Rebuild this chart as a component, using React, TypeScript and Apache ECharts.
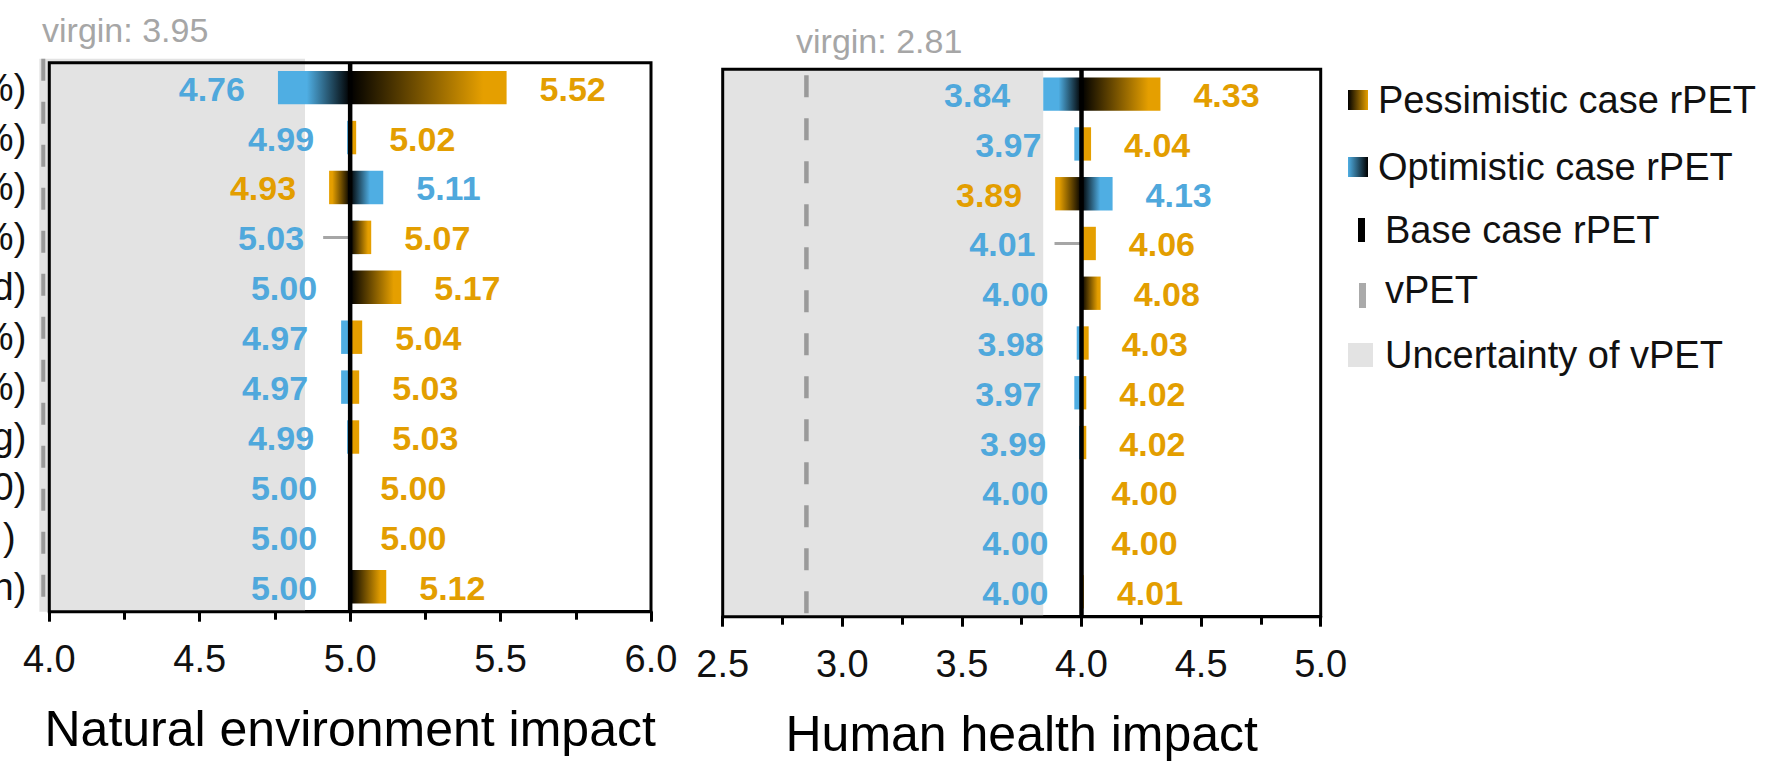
import React, { useEffect, useRef } from "react";
import * as echarts from "echarts";

const FONT = "'Liberation Sans', Arial, Helvetica, sans-serif";

// category labels (only their right ends are visible in the figure)
const categories = ["%)", "%)", "%)", "%)", "d)", "%)", "%)", "g)", "0)", ")\u00a0", "n)"];

// Natural environment impact
const natOptimistic = [4.76, 4.99, 5.11, 5.03, 5.0, 4.97, 4.97, 4.99, 5.0, 5.0, 5.0];
const natPessimistic = [5.52, 5.02, 4.93, 5.07, 5.17, 5.04, 5.03, 5.03, 5.0, 5.0, 5.12];
const natBase = 5.0;
const natAxisRange = [4.0, 6.0];
const natVpetMarker = 3.98;
const natUncertainty = [3.967, 4.85];
const natVirginLabel = "virgin: 3.95";

// Human health impact
const hhOptimistic = [3.84, 3.97, 4.13, 4.01, 4.0, 3.98, 3.97, 3.99, 4.0, 4.0, 4.0];
const hhPessimistic = [4.33, 4.04, 3.89, 4.06, 4.08, 4.03, 4.02, 4.02, 4.0, 4.0, 4.01];
const hhBase = 4.0;
const hhAxisRange = [2.5, 5.0];
const hhVpetMarker = 2.85;
const hhUncertainty = [2.5, 3.84];
const hhVirginLabel = "virgin: 2.81";

const tickStep = 0.5;

const legendNames = [
  "Pessimistic case rPET",
  "Optimistic case rPET",
  "Base case rPET",
  "vPET",
  "Uncertainty of vPET",
];

const ORANGE = "#E59F00";
const ORANGE_TXT = "#E39E00";
const BLUE = "#4FAEE3";
const BLUE_TXT = "#4FA8DC";
const BAND = "#E3E3E3";
const DASH = "#9A9A9A";

function barsRenderer(base: number) {
  return (params: any, api: any) => {
    const i = api.value(0);
    const opt = api.value(1);
    const pess = api.value(2);
    const [xb, y] = api.coord([base, i]);
    const xo = api.coord([opt, i])[0];
    const xp = api.coord([pess, i])[0];
    const h = api.size([0, 1])[1] * 0.67;
    const children: any[] = [];
    const bar = (x1: number, color: string, ramp: number) => {
      const w = Math.abs(x1 - xb);
      if (w < 0.5) return;
      const toRight = x1 > xb;
      const fill =
        w < 15
          ? color
          : new echarts.graphic.LinearGradient(toRight ? 0 : 1, 0, toRight ? 1 : 0, 0, [
              { offset: 0, color: "#000" },
              { offset: ramp, color },
              { offset: 1, color },
            ]);
      children.push({
        type: "rect",
        shape: { x: Math.min(xb, x1), y: y - h / 2, width: w, height: h },
        style: { fill },
      });
    };
    bar(xo, BLUE, 0.6);
    bar(xp, ORANGE, 0.85);

    const leftIsOpt = opt <= pess;
    const lo = leftIsOpt ? opt : pess;
    const hi = leftIsOpt ? pess : opt;
    const loColor = leftIsOpt ? BLUE_TXT : ORANGE_TXT;
    const hiColor = leftIsOpt ? ORANGE_TXT : BLUE_TXT;
    const gap = 33;
    const font = `bold 34px ${FONT}`;

    let lx: number;
    if (lo < base) {
      lx = api.coord([lo, i])[0] - gap;
    } else if (lo > base) {
      const start = xb - 27;
      children.push({
        type: "line",
        shape: { x1: start, y1: y, x2: api.coord([lo, i])[0], y2: y },
        style: { stroke: "#A6A6A6", lineWidth: 3 },
        z2: -1,
      });
      lx = start - 19;
    } else {
      lx = xb - gap;
    }
    children.push({
      type: "text",
      x: lx,
      y: y + 1,
      style: { text: lo.toFixed(2), fill: loColor, font, align: "right", verticalAlign: "middle" },
    });
    const rx = hi > base ? api.coord([hi, i])[0] + gap : xb + 30;
    children.push({
      type: "text",
      x: rx,
      y: y + 1,
      style: { text: hi.toFixed(2), fill: hiColor, font, align: "left", verticalAlign: "middle" },
    });
    return { type: "group", children };
  };
}

function bgRenderer(band: number[], vpet: number, bandTopExtra: number, dashTop: number, dashWidth: number) {
  return (params: any, api: any) => {
    const cs = params.coordSys;
    const x1 = api.coord([band[0], 0])[0];
    const x2 = api.coord([band[1], 0])[0];
    const xv = api.coord([vpet, 0])[0];
    const top = cs.y;
    const bottom = cs.y + cs.height;
    return {
      type: "group",
      children: [
        {
          type: "rect",
          shape: { x: x1, y: top - bandTopExtra, width: x2 - x1, height: bottom - top + bandTopExtra },
          style: { fill: BAND },
        },
        {
          type: "line",
          shape: { x1: xv, y1: top + dashTop, x2: xv, y2: bottom },
          style: { stroke: DASH, lineWidth: dashWidth, lineDash: [22, 21] },
        },
      ],
    };
  };
}

function fgRenderer(base: number) {
  return (params: any, api: any) => {
    const cs = params.coordSys;
    const xb = api.coord([base, 0])[0];
    return {
      type: "group",
      children: [
        {
          type: "line",
          shape: { x1: xb, y1: cs.y, x2: xb, y2: cs.y + cs.height },
          style: { stroke: "#000", lineWidth: 4.5 },
        },
        {
          type: "rect",
          shape: { x: cs.x, y: cs.y, width: cs.width, height: cs.height },
          style: { fill: "none", stroke: "#000", lineWidth: 3 },
        },
      ],
    };
  };
}

function xAxisCfg(gridIndex: number, range: number[], name: string) {
  return {
    gridIndex,
    type: "value",
    min: range[0],
    max: range[1],
    interval: tickStep,
    axisLine: { show: true, lineStyle: { color: "#000", width: 3 } },
    axisTick: { show: true, length: 10, lineStyle: { color: "#000", width: 3 } },
    minorTick: { show: true, splitNumber: 2, length: 8, lineStyle: { color: "#000", width: 3 } },
    splitLine: { show: false },
    axisLabel: {
      formatter: (v: number) => v.toFixed(1),
      fontSize: 38,
      fontFamily: FONT,
      color: "#111",
      margin: 28,
    },
    name,
    nameLocation: "middle",
    nameGap: 92,
    nameTextStyle: { fontSize: 50, fontFamily: FONT, color: "#000" },
  };
}

export default function App() {
  const ref = useRef<HTMLDivElement>(null);
  useEffect(() => {
    if (!ref.current) return;
    const chart = echarts.init(ref.current, undefined, { renderer: "svg" });
    const natRows = categories.map((_, i) => [i, natOptimistic[i], natPessimistic[i]]);
    const hhRows = categories.map((_, i) => [i, hhOptimistic[i], hhPessimistic[i]]);

    const legendY = [100, 167, 230, 290, 355];
    const graphic: any[] = [
      {
        type: "text",
        left: 42,
        top: 13,
        style: { text: natVirginLabel, fill: "#A6A6A6", font: `34px ${FONT}` },
      },
      {
        type: "text",
        left: 796,
        top: 24,
        style: { text: hhVirginLabel, fill: "#A6A6A6", font: `34px ${FONT}` },
      },
      {
        type: "rect",
        shape: { x: 1348, y: 90, width: 20, height: 20 },
        style: {
          fill: new echarts.graphic.LinearGradient(0, 0, 1, 0, [
            { offset: 0, color: "#000" },
            { offset: 1, color: ORANGE },
          ]),
        },
      },
      {
        type: "rect",
        shape: { x: 1348, y: 157, width: 20, height: 20 },
        style: {
          fill: new echarts.graphic.LinearGradient(0, 0, 1, 0, [
            { offset: 0, color: BLUE },
            { offset: 1, color: "#000" },
          ]),
        },
      },
      { type: "rect", shape: { x: 1358, y: 218, width: 7, height: 24 }, style: { fill: "#000" } },
      { type: "rect", shape: { x: 1359, y: 283, width: 7, height: 25 }, style: { fill: "#AAAAAA" } },
      { type: "rect", shape: { x: 1348, y: 343, width: 25, height: 24 }, style: { fill: BAND } },
    ];
    legendNames.forEach((n, k) => {
      graphic.push({
        type: "text",
        x: k < 2 ? 1378 : 1385,
        y: legendY[k],
        style: { text: n, fill: "#111", font: `38px ${FONT}`, align: "left", verticalAlign: "middle" },
      });
    });

    chart.setOption({
      animation: false,
      grid: [
        { left: 49.3, top: 62.7, width: 601.7, height: 549, show: false, outerBoundsMode: "none", containLabel: false },
        { left: 722.7, top: 69.3, width: 598, height: 547.4, show: false, outerBoundsMode: "none", containLabel: false },
      ],
      xAxis: [
        xAxisCfg(0, natAxisRange, "Natural environment impact"),
        xAxisCfg(1, hhAxisRange, "Human health impact"),
      ],
      yAxis: [
        {
          gridIndex: 0,
          type: "category",
          data: categories,
          inverse: true,
          axisLine: { show: false },
          axisTick: { show: false },
          axisLabel: { fontSize: 38, fontFamily: FONT, color: "#111", margin: 23 },
        },
        {
          gridIndex: 1,
          type: "category",
          data: categories,
          inverse: true,
          axisLine: { show: false },
          axisTick: { show: false },
          axisLabel: { show: false },
        },
      ],
      graphic,
      series: [
        {
          type: "custom",
          xAxisIndex: 0,
          yAxisIndex: 0,
          z: 1,
          silent: true,
          data: [[natBase, 0]],
          encode: { x: 0, y: 1 },
          renderItem: bgRenderer(natUncertainty, natVpetMarker, 4, -4, 4),
        },
        {
          type: "custom",
          xAxisIndex: 0,
          yAxisIndex: 0,
          z: 2,
          silent: true,
          data: natRows,
          encode: { x: [1, 2], y: 0 },
          renderItem: barsRenderer(natBase),
        },
        {
          type: "custom",
          xAxisIndex: 0,
          yAxisIndex: 0,
          z: 3,
          silent: true,
          data: [[natBase, 0]],
          encode: { x: 0, y: 1 },
          renderItem: fgRenderer(natBase),
        },
        {
          type: "custom",
          xAxisIndex: 1,
          yAxisIndex: 1,
          z: 1,
          silent: true,
          data: [[hhBase, 0]],
          encode: { x: 0, y: 1 },
          renderItem: bgRenderer(hhUncertainty, hhVpetMarker, 0, 6, 4.5),
        },
        {
          type: "custom",
          xAxisIndex: 1,
          yAxisIndex: 1,
          z: 2,
          silent: true,
          data: hhRows,
          encode: { x: [1, 2], y: 0 },
          renderItem: barsRenderer(hhBase),
        },
        {
          type: "custom",
          xAxisIndex: 1,
          yAxisIndex: 1,
          z: 3,
          silent: true,
          data: [[hhBase, 0]],
          encode: { x: 0, y: 1 },
          renderItem: fgRenderer(hhBase),
        },
      ],
    });
    return () => chart.dispose();
  }, []);
  return (
    <div
      ref={ref}
      style={{ position: "absolute", left: 0, top: 0, width: 1775, height: 765, background: "#fff" }}
    />
  );
}
